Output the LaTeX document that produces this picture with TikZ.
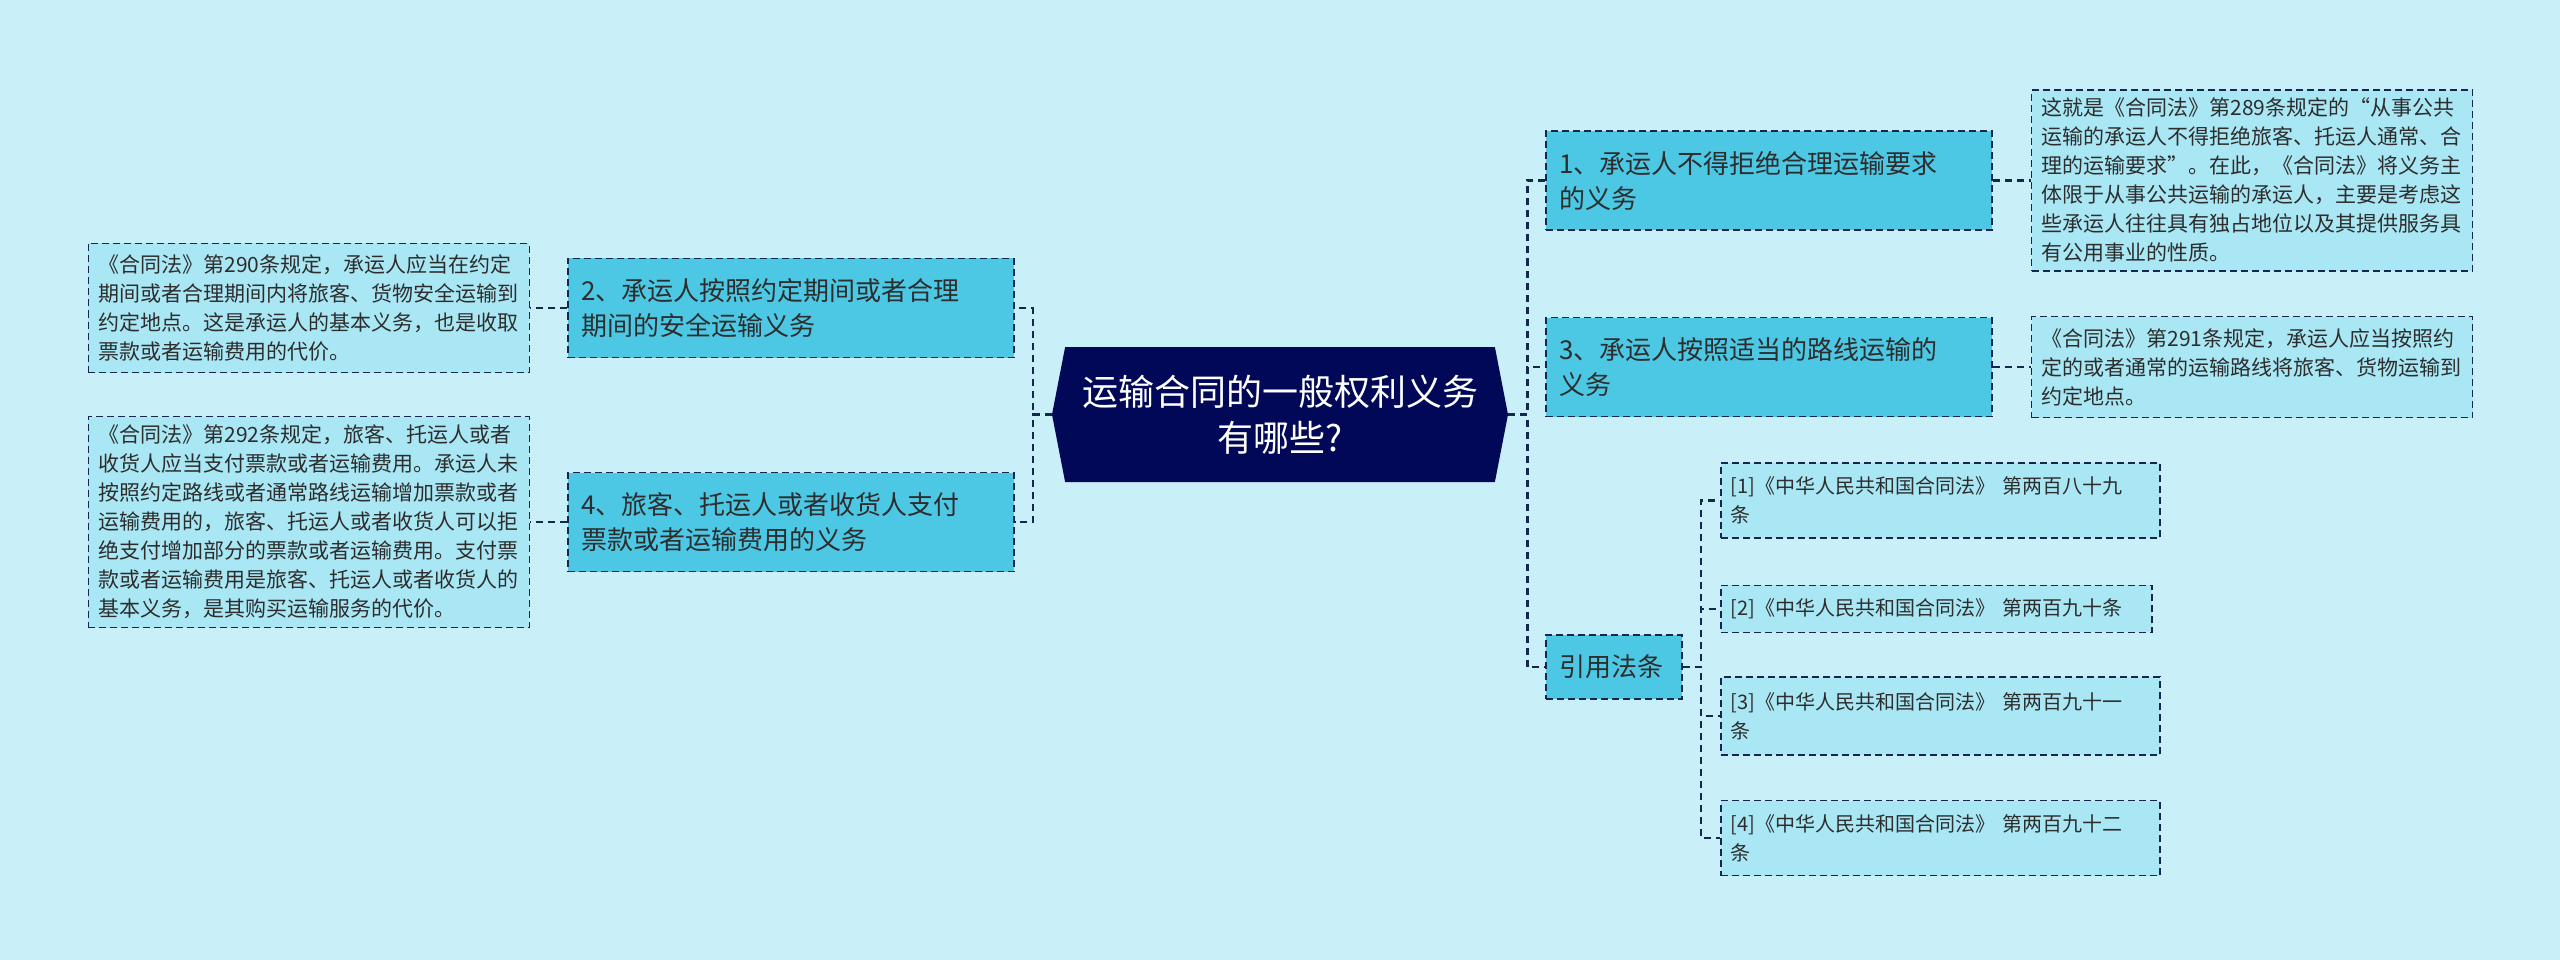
\documentclass[tikz,border=0pt]{standalone}
\usepackage{fontspec}
\setmainfont{Noto Sans CJK SC}
\usetikzlibrary{positioning,shapes.symbols}
\definecolor{bgcyan}{RGB}{201,240,248}
\definecolor{rootnavy}{RGB}{0,8,87}
\definecolor{branchcyan}{RGB}{76,200,228}
\definecolor{leafcyan}{RGB}{170,231,244}
\definecolor{edgenavy}{RGB}{22,38,78}
\definecolor{inkgray}{RGB}{45,45,45}
\tikzset{
  rootbox/.style={shape=signal,signal to=east and west,signal pointer angle=158,fill=rootnavy,text=white,minimum width=456pt,minimum height=135pt,align=center,font=\fontsize{36}{46}\selectfont},
  branchbox/.style={draw=edgenavy,dash pattern=on 7pt off 4pt,line width=1.6pt,fill=branchcyan,text=inkgray,align=left,inner xsep=13pt,text width=420pt,minimum height=99pt,font=\fontsize{26}{35}\selectfont},
  leafbox/.style={draw=edgenavy,dash pattern=on 7pt off 4pt,line width=1.6pt,fill=leafcyan,text=inkgray,align=left,inner xsep=10pt,text width=421pt,font=\fontsize{21}{29}\selectfont},
  refbox/.style={leafbox,text width=419pt,font=\fontsize{20}{29}\selectfont},
  link/.style={draw=edgenavy,line width=2.6pt,dash pattern=on 7pt off 5pt}
}
\begin{document}
\begin{tikzpicture}[x=1pt,y=-1pt,node distance=38pt]
\fill[bgcyan] (0,0) rectangle (2560,960);
% centre
\node[rootbox] (root) at (1280,414.5) {运输合同的一般权利义务\\有哪些?};
% right side
\node[branchbox] (duty1) at (1769,180.5) {1、承运人不得拒绝合理运输要求\\的义务};
\node[branchbox] (duty3) at (1769,367) {3、承运人按照适当的路线运输的\\义务};
\node[branchbox,text width=110pt,minimum height=64pt] (cite) at (1614,667) {引用法条};
\node[leafbox,minimum height=181pt,right=of duty1] (note1) {这就是《合同法》第289条规定的“从事公共\\运输的承运人不得拒绝旅客、托运人通常、合\\理的运输要求”。在此，《合同法》将义务主\\体限于从事公共运输的承运人，主要是考虑这\\些承运人往往具有独占地位以及其提供服务具\\有公用事业的性质。};
\node[leafbox,minimum height=101pt,right=of duty3] (note3) {《合同法》第291条规定，承运人应当按照约\\定的或者通常的运输路线将旅客、货物运输到\\约定地点。};
% cited articles
\node[refbox,minimum height=75pt,anchor=north west] (ref1) at (1720,462) {[1]《中华人民共和国合同法》 第两百八十九\\条};
\node[refbox,text width=411pt,minimum height=47pt,below=46pt of ref1.south west,anchor=north west] (ref2) {[2]《中华人民共和国合同法》 第两百九十条};
\node[refbox,minimum height=78pt,below=43pt of ref2.south west,anchor=north west] (ref3) {[3]《中华人民共和国合同法》 第两百九十一\\条};
\node[refbox,minimum height=75pt,below=44pt of ref3.south west,anchor=north west] (ref4) {[4]《中华人民共和国合同法》 第两百九十二\\条};
% left side
\node[branchbox] (duty2) at (791,308) {2、承运人按照约定期间或者合理\\期间的安全运输义务};
\node[branchbox] (duty4) at (791,522) {4、旅客、托运人或者收货人支付\\票款或者运输费用的义务};
\node[leafbox,minimum height=129pt,left=37pt of duty2] (note2) {《合同法》第290条规定，承运人应当在约定\\期间或者合理期间内将旅客、货物安全运输到\\约定地点。这是承运人的基本义务，也是收取\\票款或者运输费用的代价。};
\node[leafbox,minimum height=211pt,left=37pt of duty4] (note4) {《合同法》第292条规定，旅客、托运人或者\\收货人应当支付票款或者运输费用。承运人未\\按照约定路线或者通常路线运输增加票款或者\\运输费用的，旅客、托运人或者收货人可以拒\\绝支付增加部分的票款或者运输费用。支付票\\款或者运输费用是旅客、托运人或者收货人的\\基本义务，是其购买运输服务的代价。};
% connectors
\draw[link] (root.east) -- ++(19,0) |- (duty1.west);
\draw[link] (root.east) -- ++(19,0) |- (duty3.west);
\draw[link] (root.east) -- ++(19,0) |- (cite.west);
\draw[link] (root.west) -- ++(-19,0) |- (duty2.east);
\draw[link] (root.west) -- ++(-19,0) |- (duty4.east);
\draw[link] (duty1) -- (note1);
\draw[link] (duty3) -- (note3);
\draw[link] (duty2) -- (note2);
\draw[link] (duty4) -- (note4);
\draw[link] (cite.east) -- ++(18,0) |- (ref1.west);
\draw[link] (cite.east) -- ++(18,0) |- (ref2.west);
\draw[link] (cite.east) -- ++(18,0) |- (ref3.west);
\draw[link] (cite.east) -- ++(18,0) |- (ref4.west);
\end{tikzpicture}
\end{document}
